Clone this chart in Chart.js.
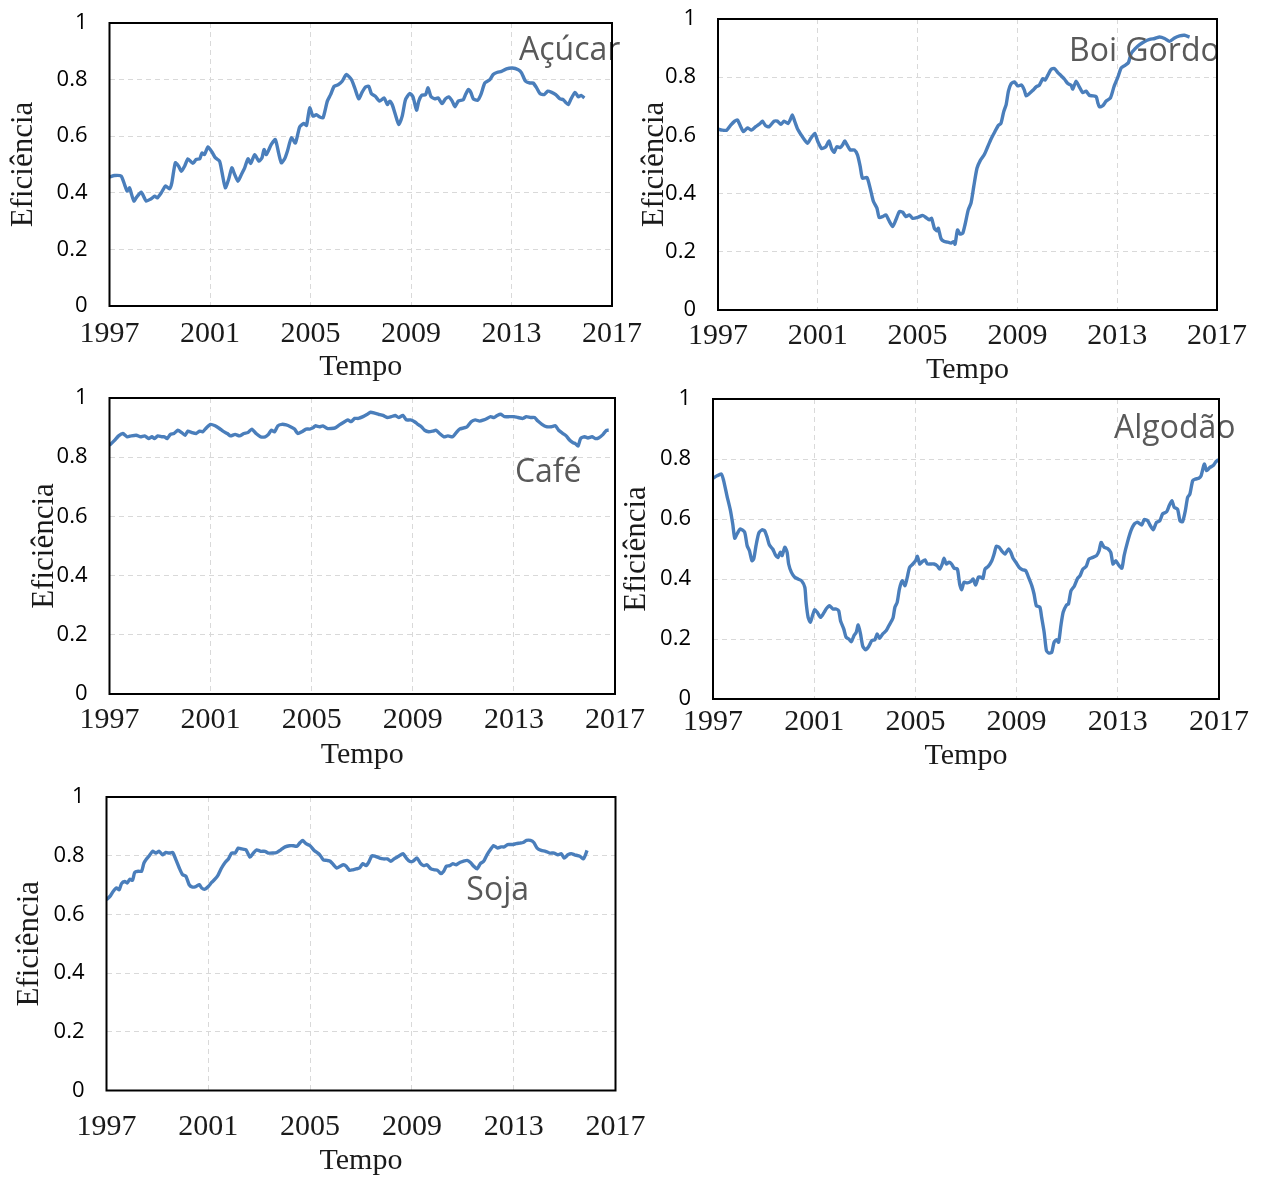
<!DOCTYPE html>
<html>
<head>
<meta charset="utf-8">
<script src="https://cdn.jsdelivr.net/npm/chart.js@4.4.1/dist/chart.umd.min.js"></script>
<style>
html,body{margin:0;padding:0;background:#fff;}
#wrap{position:relative;width:1280px;height:1178px;overflow:hidden;background:#fff;}
#wrap canvas{position:absolute;left:0;top:0;}
</style>
</head>
<body>
<div id="wrap">
<canvas id="c1" width="1280" height="1178"></canvas>
<canvas id="c2" width="1280" height="1178"></canvas>
<canvas id="c3" width="1280" height="1178"></canvas>
<canvas id="c4" width="1280" height="1178"></canvas>
<canvas id="c5" width="1280" height="1178"></canvas>
</div>
<script>
// ---- Tick labels ----
const yearTicks = [1997, 2001, 2005, 2009, 2013, 2017];
const valueTicks = [0, 0.2, 0.4, 0.6, 0.8, 1];
const panelNames = ['Açúcar', 'Boi Gordo', 'Café', 'Algodão', 'Soja'];
const yAxisTitle = 'Eficiência';
const xAxisTitle = 'Tempo';

// ---- Açúcar ----
const acucarYears = [1997.0,1997.2,1997.46,1997.6,1997.7,1997.8,1997.86,1997.97,1998.06,1998.26,
1998.46,1998.66,1998.8,1998.9,1999.06,1999.23,1999.39,1999.48,1999.62,1999.75,
1999.86,1999.99,2000.12,2000.32,2000.45,2000.59,2000.68,2000.78,2000.92,2001.08,
2001.21,2001.38,2001.48,2001.61,2001.74,2001.87,2001.98,2002.11,2002.25,2002.38,
2002.51,2002.62,2002.78,2002.94,2003.07,2003.15,2003.24,2003.44,2003.6,2003.73,
2003.84,2003.97,2004.08,2004.24,2004.4,2004.57,2004.74,2004.84,2004.97,2005.1,
2005.23,2005.37,2005.5,2005.67,2005.8,2005.94,2006.1,2006.26,2006.43,2006.63,
2006.76,2006.92,2007.05,2007.19,2007.32,2007.42,2007.58,2007.75,2007.93,2008.06,
2008.15,2008.25,2008.38,2008.51,2008.65,2008.78,2008.95,2009.08,2009.22,2009.31,
2009.42,2009.58,2009.68,2009.79,2009.95,2010.08,2010.24,2010.37,2010.5,2010.64,
2010.75,2010.88,2011.08,2011.17,2011.28,2011.38,2011.48,2011.65,2011.78,2011.94,
2012.14,2012.27,2012.44,2012.6,2012.8,2013.03,2013.27,2013.4,2013.56,2013.73,
2013.86,2014.0,2014.13,2014.3,2014.44,2014.6,2014.76,2014.93,2015.06,2015.15,
2015.26,2015.37,2015.53,2015.66,2015.77,2015.9];
const acucarValues = [0.456,0.461,0.459,0.429,0.406,0.418,0.40,0.371,0.382,0.402,
0.371,0.379,0.388,0.382,0.40,0.424,0.414,0.435,0.506,0.494,
0.476,0.494,0.52,0.504,0.518,0.52,0.541,0.535,0.562,0.544,
0.524,0.512,0.471,0.418,0.447,0.488,0.465,0.441,0.465,0.488,
0.52,0.504,0.535,0.512,0.524,0.553,0.535,0.571,0.588,0.541,
0.506,0.52,0.547,0.594,0.576,0.633,0.645,0.638,0.70,0.671,
0.676,0.668,0.665,0.724,0.747,0.776,0.782,0.794,0.818,0.80,
0.771,0.732,0.755,0.774,0.776,0.751,0.741,0.724,0.735,0.712,
0.724,0.712,0.676,0.641,0.671,0.729,0.751,0.739,0.692,0.724,
0.744,0.747,0.771,0.741,0.732,0.735,0.715,0.732,0.739,0.724,
0.704,0.724,0.729,0.747,0.765,0.755,0.732,0.727,0.747,0.788,
0.80,0.818,0.826,0.829,0.838,0.841,0.835,0.824,0.794,0.788,
0.788,0.771,0.751,0.747,0.759,0.755,0.747,0.732,0.729,0.72,
0.712,0.732,0.755,0.739,0.744,0.735];

// ---- Boi Gordo ----
const boiYears = [1997.0,1997.17,1997.35,1997.51,1997.67,1997.78,1997.91,1998.02,1998.18,1998.34,
1998.51,1998.69,1998.78,1998.91,1999.05,1999.25,1999.38,1999.52,1999.65,1999.81,
1999.89,1999.98,2000.08,2000.18,2000.34,2000.45,2000.59,2000.72,2000.88,2000.99,
2001.15,2001.32,2001.45,2001.55,2001.66,2001.76,2001.9,2001.99,2002.08,2002.19,
2002.3,2002.46,2002.59,2002.7,2002.79,2002.97,2003.1,2003.23,2003.37,2003.46,
2003.6,2003.73,2003.86,2004.0,2004.13,2004.27,2004.4,2004.53,2004.67,2004.8,
2005.0,2005.2,2005.33,2005.47,2005.56,2005.67,2005.78,2005.83,2005.94,2006.07,
2006.2,2006.34,2006.44,2006.5,2006.6,2006.7,2006.81,2006.9,2007.03,2007.14,
2007.25,2007.38,2007.52,2007.68,2007.81,2007.94,2008.08,2008.24,2008.34,2008.45,
2008.55,2008.64,2008.75,2008.88,2009.01,2009.17,2009.28,2009.35,2009.48,2009.62,
2009.75,2009.88,2010.02,2010.11,2010.22,2010.35,2010.48,2010.62,2010.75,2010.89,
2011.02,2011.15,2011.22,2011.35,2011.48,2011.62,2011.75,2011.88,2012.02,2012.16,
2012.22,2012.29,2012.42,2012.56,2012.73,2012.87,2013.03,2013.16,2013.32,2013.45,
2013.56,2013.72,2013.9,2014.1,2014.3,2014.5,2014.7,2014.9,2015.1,2015.3,
2015.5,2015.7,2015.9];
const boiValues = [0.622,0.618,0.618,0.635,0.649,0.653,0.63,0.613,0.626,0.618,
0.63,0.641,0.649,0.633,0.63,0.649,0.649,0.638,0.649,0.641,
0.653,0.67,0.647,0.624,0.601,0.587,0.573,0.59,0.607,0.581,
0.555,0.561,0.581,0.555,0.542,0.561,0.558,0.567,0.581,0.565,
0.55,0.55,0.533,0.493,0.453,0.455,0.418,0.373,0.35,0.318,
0.321,0.327,0.306,0.287,0.31,0.338,0.336,0.321,0.327,0.315,
0.318,0.325,0.318,0.31,0.315,0.281,0.272,0.281,0.245,0.235,
0.233,0.23,0.235,0.226,0.275,0.261,0.264,0.293,0.344,0.367,
0.424,0.487,0.515,0.535,0.561,0.587,0.61,0.635,0.641,0.681,
0.706,0.752,0.778,0.784,0.77,0.773,0.755,0.736,0.744,0.755,
0.767,0.773,0.795,0.79,0.807,0.827,0.83,0.816,0.805,0.793,
0.778,0.773,0.759,0.786,0.767,0.747,0.752,0.738,0.736,0.733,
0.713,0.698,0.702,0.718,0.729,0.767,0.801,0.832,0.841,0.85,
0.881,0.898,0.912,0.923,0.93,0.933,0.938,0.933,0.923,0.935,
0.942,0.944,0.938];

// ---- Café ----
const cafeYears = [1997.0,1997.2,1997.36,1997.53,1997.7,1997.86,1998.06,1998.23,1998.39,1998.55,
1998.68,1998.78,1998.91,1999.07,1999.18,1999.28,1999.41,1999.55,1999.7,1999.86,
1999.99,2000.1,2000.26,2000.43,2000.56,2000.69,2000.83,2001.0,2001.18,2001.35,
2001.49,2001.66,2001.79,2001.97,2002.14,2002.32,2002.47,2002.63,2002.8,2002.98,
2003.16,2003.29,2003.4,2003.53,2003.66,2003.82,2003.99,2004.16,2004.32,2004.45,
2004.61,2004.78,2004.92,2005.05,2005.14,2005.31,2005.44,2005.61,2005.77,2005.93,
2006.1,2006.27,2006.43,2006.56,2006.7,2006.85,2007.03,2007.2,2007.33,2007.49,
2007.65,2007.82,2007.99,2008.15,2008.31,2008.44,2008.61,2008.74,2008.91,2009.07,
2009.2,2009.34,2009.47,2009.63,2009.79,2009.92,2010.06,2010.23,2010.39,2010.58,
2010.72,2010.85,2011.02,2011.15,2011.31,2011.47,2011.64,2011.81,2011.94,2012.08,
2012.21,2012.34,2012.48,2012.63,2012.83,2013.0,2013.16,2013.36,2013.49,2013.66,
2013.82,2013.95,2014.11,2014.28,2014.48,2014.64,2014.77,2014.94,2015.07,2015.21,
2015.34,2015.43,2015.54,2015.64,2015.8,2015.93,2016.09,2016.22,2016.35,2016.53,
2016.66,2016.75];
const cafeValues = [0.84,0.857,0.872,0.88,0.869,0.872,0.874,0.869,0.872,0.863,
0.869,0.863,0.872,0.869,0.869,0.863,0.877,0.88,0.891,0.883,
0.874,0.888,0.883,0.88,0.888,0.886,0.899,0.911,0.906,0.897,
0.888,0.88,0.872,0.877,0.872,0.88,0.883,0.895,0.88,0.869,
0.869,0.877,0.891,0.886,0.906,0.911,0.909,0.903,0.895,0.88,
0.886,0.895,0.895,0.899,0.906,0.903,0.906,0.897,0.897,0.899,
0.909,0.918,0.926,0.92,0.931,0.931,0.937,0.945,0.952,0.949,
0.945,0.941,0.934,0.937,0.941,0.934,0.941,0.926,0.926,0.92,
0.911,0.903,0.891,0.886,0.888,0.891,0.88,0.869,0.872,0.869,
0.883,0.895,0.899,0.903,0.92,0.926,0.922,0.926,0.931,0.937,
0.934,0.941,0.945,0.937,0.937,0.937,0.934,0.931,0.937,0.934,
0.934,0.922,0.911,0.903,0.903,0.906,0.891,0.88,0.872,0.857,
0.849,0.846,0.838,0.863,0.869,0.865,0.869,0.863,0.865,0.877,
0.891,0.891];

// ---- Algodão ----
const algodaoYears = [1997.0,1997.16,1997.33,1997.42,1997.55,1997.69,1997.78,1997.86,1997.95,1998.08,
1998.25,1998.35,1998.44,1998.54,1998.61,1998.7,1998.81,1998.94,1999.04,1999.14,
1999.23,1999.36,1999.47,1999.57,1999.66,1999.73,1999.84,1999.93,1999.99,2000.1,
2000.23,2000.36,2000.5,2000.63,2000.68,2000.76,2000.85,2000.94,2001.02,2001.12,
2001.25,2001.38,2001.47,2001.6,2001.74,2001.87,2001.97,2002.04,2002.17,2002.26,
2002.37,2002.47,2002.57,2002.66,2002.74,2002.83,2002.92,2003.03,2003.16,2003.27,
2003.4,2003.49,2003.58,2003.71,2003.85,2003.95,2004.11,2004.19,2004.28,2004.37,
2004.48,2004.59,2004.68,2004.77,2004.9,2005.01,2005.08,2005.17,2005.27,2005.38,
2005.47,2005.6,2005.73,2005.86,2005.96,2006.06,2006.13,2006.22,2006.33,2006.43,
2006.53,2006.66,2006.75,2006.83,2006.92,2007.05,2007.18,2007.28,2007.38,2007.49,
2007.58,2007.67,2007.75,2007.88,2008.02,2008.11,2008.2,2008.31,2008.41,2008.54,
2008.68,2008.77,2008.86,2008.97,2009.1,2009.23,2009.36,2009.47,2009.6,2009.69,
2009.78,2009.92,2009.99,2010.09,2010.18,2010.28,2010.39,2010.48,2010.58,2010.66,
2010.75,2010.84,2010.97,2011.05,2011.15,2011.28,2011.41,2011.51,2011.62,2011.75,
2011.86,2012.01,2012.16,2012.26,2012.34,2012.46,2012.59,2012.72,2012.81,2012.92,
2013.03,2013.16,2013.25,2013.38,2013.52,2013.65,2013.78,2013.95,2014.04,2014.18,
2014.27,2014.4,2014.53,2014.66,2014.77,2014.93,2015.03,2015.14,2015.23,2015.36,
2015.46,2015.56,2015.67,2015.76,2015.85,2015.96,2016.07,2016.2,2016.29,2016.42,
2016.51,2016.64,2016.77,2016.88,2016.98];
const algodaoValues = [0.736,0.744,0.75,0.728,0.678,0.628,0.583,0.536,0.55,0.567,
0.556,0.511,0.494,0.461,0.467,0.511,0.553,0.564,0.561,0.539,
0.513,0.50,0.48,0.472,0.489,0.478,0.506,0.489,0.45,0.422,
0.406,0.40,0.394,0.372,0.322,0.272,0.256,0.28,0.298,0.289,
0.272,0.287,0.30,0.311,0.30,0.30,0.294,0.261,0.233,0.206,
0.20,0.191,0.211,0.222,0.247,0.217,0.176,0.164,0.176,0.194,
0.198,0.217,0.202,0.217,0.228,0.244,0.269,0.306,0.322,0.367,
0.394,0.378,0.406,0.439,0.45,0.461,0.476,0.45,0.458,0.464,
0.45,0.45,0.45,0.444,0.433,0.45,0.469,0.45,0.456,0.45,
0.436,0.433,0.383,0.364,0.389,0.387,0.391,0.40,0.38,0.406,
0.406,0.402,0.433,0.442,0.461,0.483,0.509,0.506,0.494,0.483,
0.50,0.489,0.469,0.456,0.439,0.431,0.428,0.406,0.378,0.35,
0.311,0.306,0.272,0.222,0.161,0.153,0.156,0.189,0.198,0.189,
0.244,0.289,0.313,0.317,0.361,0.376,0.402,0.411,0.433,0.442,
0.467,0.472,0.478,0.494,0.522,0.506,0.502,0.489,0.45,0.461,
0.447,0.436,0.478,0.522,0.561,0.583,0.589,0.58,0.598,0.594,
0.58,0.564,0.589,0.594,0.617,0.624,0.644,0.661,0.639,0.633,
0.594,0.591,0.628,0.672,0.683,0.728,0.733,0.736,0.744,0.783,
0.761,0.772,0.778,0.791,0.798];

// ---- Soja ----
const sojaYears = [1997.0,1997.16,1997.26,1997.39,1997.5,1997.59,1997.72,1997.81,1997.92,1998.02,
1998.11,1998.25,1998.38,1998.47,1998.57,1998.68,1998.81,1998.94,1999.07,1999.2,
1999.33,1999.47,1999.6,1999.73,1999.86,1999.99,2000.12,2000.25,2000.38,2000.51,
2000.65,2000.74,2000.87,2001.0,2001.13,2001.26,2001.39,2001.52,2001.66,2001.79,
2001.92,2002.05,2002.18,2002.31,2002.48,2002.64,2002.77,2002.9,2003.06,2003.23,
2003.36,2003.53,2003.69,2003.85,2004.02,2004.19,2004.34,2004.48,2004.61,2004.71,
2004.84,2005.0,2005.16,2005.33,2005.42,2005.52,2005.66,2005.79,2005.92,2006.05,
2006.18,2006.31,2006.42,2006.55,2006.68,2006.81,2006.94,2007.07,2007.2,2007.3,
2007.43,2007.56,2007.73,2007.89,2008.04,2008.17,2008.3,2008.48,2008.65,2008.78,
2008.91,2009.04,2009.2,2009.33,2009.46,2009.59,2009.75,2009.88,2010.01,2010.14,
2010.25,2010.35,2010.48,2010.61,2010.74,2010.88,2011.01,2011.17,2011.3,2011.43,
2011.56,2011.69,2011.82,2011.95,2012.08,2012.21,2012.37,2012.5,2012.63,2012.76,
2012.94,2013.1,2013.24,2013.37,2013.5,2013.66,2013.79,2013.92,2014.08,2014.25,
2014.42,2014.59,2014.74,2014.87,2014.98,2015.13,2015.26,2015.39,2015.6,2015.74,
2015.82,2015.88];
const sojaValues = [0.65,0.664,0.678,0.69,0.684,0.705,0.712,0.707,0.72,0.716,
0.743,0.747,0.747,0.775,0.789,0.80,0.815,0.809,0.815,0.803,
0.811,0.809,0.811,0.786,0.758,0.735,0.73,0.701,0.693,0.695,
0.701,0.69,0.686,0.695,0.709,0.72,0.735,0.758,0.777,0.789,
0.809,0.809,0.826,0.823,0.82,0.795,0.809,0.82,0.815,0.815,
0.809,0.809,0.811,0.82,0.83,0.834,0.834,0.832,0.845,0.852,
0.841,0.834,0.818,0.807,0.798,0.786,0.784,0.781,0.769,0.758,
0.764,0.769,0.764,0.75,0.752,0.755,0.758,0.773,0.766,0.777,
0.80,0.798,0.792,0.789,0.789,0.781,0.789,0.798,0.807,0.792,
0.781,0.781,0.792,0.775,0.766,0.769,0.755,0.752,0.75,0.739,
0.747,0.764,0.766,0.773,0.769,0.777,0.781,0.784,0.777,0.764,
0.755,0.773,0.781,0.803,0.82,0.834,0.826,0.83,0.83,0.838,
0.838,0.841,0.843,0.845,0.852,0.852,0.845,0.826,0.818,0.815,
0.809,0.809,0.803,0.807,0.792,0.803,0.807,0.803,0.798,0.789,
0.803,0.818];

const seriesYears = [acucarYears, boiYears, cafeYears, algodaoYears, sojaYears];
const seriesValues = [acucarValues, boiValues, cafeValues, algodaoValues, sojaValues];

// ---- Layout (pixels) ----
const W = 1280, H = 1178;
const panels = [
  {id:'c1', area:{L:109.5, T:23,  R:612,  B:306},   yTitleX:24.2,  xTitleY:367.6,  tickPad:10,  labelAt:[2013.3, 0.869]},
  {id:'c2', area:{L:718,   T:19,  R:1217, B:310},   yTitleX:654.8, xTitleY:369.9,  tickPad:8,   labelAt:[2011.07, 0.856]},
  {id:'c3', area:{L:109.5, T:398, R:615,  B:694},   yTitleX:44.6,  xTitleY:754.9,  tickPad:8,   labelAt:[2013.04, 0.715]},
  {id:'c4', area:{L:713,   T:399, R:1219, B:699},   yTitleX:637,   xTitleY:756.6,  tickPad:5,   labelAt:[2012.85, 0.871]},
  {id:'c5', area:{L:106.5, T:797, R:615.5,B:1090.5},yTitleX:30.3,  xTitleY:1161.6, tickPad:19,  labelAt:[2011.14, 0.649]}
];

const SERIF = '"Liberation Serif", "Times New Roman", serif';
const SANS = '"Open Sans", "Noto Sans", sans-serif';
const yTitleSize = 31, xTitleSize = 30;

const framePlugin = {
  id: 'frame',
  afterDraw(chart) {
    const a = chart.chartArea, ctx = chart.ctx;
    ctx.save();
    ctx.strokeStyle = '#000';
    ctx.lineWidth = 2;
    ctx.strokeRect(a.left, a.top, a.right - a.left, a.bottom - a.top);
    ctx.restore();
  }
};
const namePlugin = {
  id: 'panelName',
  afterDatasetsDraw(chart, args, opts) {
    const ctx = chart.ctx;
    const x = chart.scales.x.getPixelForValue(opts.at[0]);
    const y = chart.scales.y.getPixelForValue(opts.at[1]);
    ctx.save();
    ctx.font = '32px ' + SANS;
    ctx.fillStyle = '#595959';
    ctx.textAlign = 'left';
    ctx.textBaseline = 'alphabetic';
    ctx.fillText(opts.text, x, y);
    ctx.restore();
  }
};

panels.forEach((p, i) => {
  const a = p.area;
  const yW = a.L - (p.yTitleX - yTitleSize * 1.2 / 2);
  const xH = (p.xTitleY + xTitleSize * 1.2 / 2) - a.B;
  const years = seriesYears[i], vals = seriesValues[i];
  const data = years.map((x, k) => ({x: x, y: vals[k]}));
  new Chart(document.getElementById(p.id), {
    type: 'line',
    data: {datasets: [{
      label: panelNames[i],
      data: data,
      borderColor: '#4a7ebb',
      borderWidth: 3.4,
      pointRadius: 0,
      tension: 0.2,
      fill: false
    }]},
    options: {
      responsive: false,
      animation: false,
      events: [],
      layout: {padding: {left: a.L - yW, top: a.T, right: W - a.R, bottom: H - a.B - xH}},
      plugins: {
        legend: {display: false},
        tooltip: {enabled: false},
        panelName: {text: panelNames[i], at: p.labelAt}
      },
      scales: {
        x: {
          type: 'linear', min: 1997, max: 2017,
          afterBuildTicks: s => { s.ticks = yearTicks.map(v => ({value: v})); },
          afterFit: s => { s.height = xH; },
          ticks: {autoSkip: false, maxRotation: 0, minRotation: 0, padding: p.tickPad,
                  color: '#1a1a1a', font: {family: SERIF, size: 30},
                  callback: v => String(v)},
          grid: {color: '#d9d9d9', lineWidth: 1, drawTicks: false},
          border: {display: false, dash: [5, 4]},
          title: {display: true, text: xAxisTitle, color: '#1a1a1a',
                  font: {family: SERIF, size: xTitleSize}, padding: 0}
        },
        y: {
          type: 'linear', min: 0, max: 1,
          afterBuildTicks: s => { s.ticks = valueTicks.map(v => ({value: v})); },
          afterFit: s => { s.width = yW; },
          ticks: {padding: 0, color: '#000', font: {family: SANS, size: 22},
                  callback: v => String(v)},
          grid: {color: '#d9d9d9', lineWidth: 1, drawTicks: true, tickLength: 22,
                 tickColor: 'rgba(0,0,0,0)'},
          border: {display: false, dash: [5, 4]},
          title: {display: true, text: yAxisTitle, color: '#1a1a1a',
                  font: {family: SERIF, size: yTitleSize}, padding: 0}
        }
      }
    },
    plugins: [framePlugin, namePlugin]
  });
});
</script>
</body>
</html>
